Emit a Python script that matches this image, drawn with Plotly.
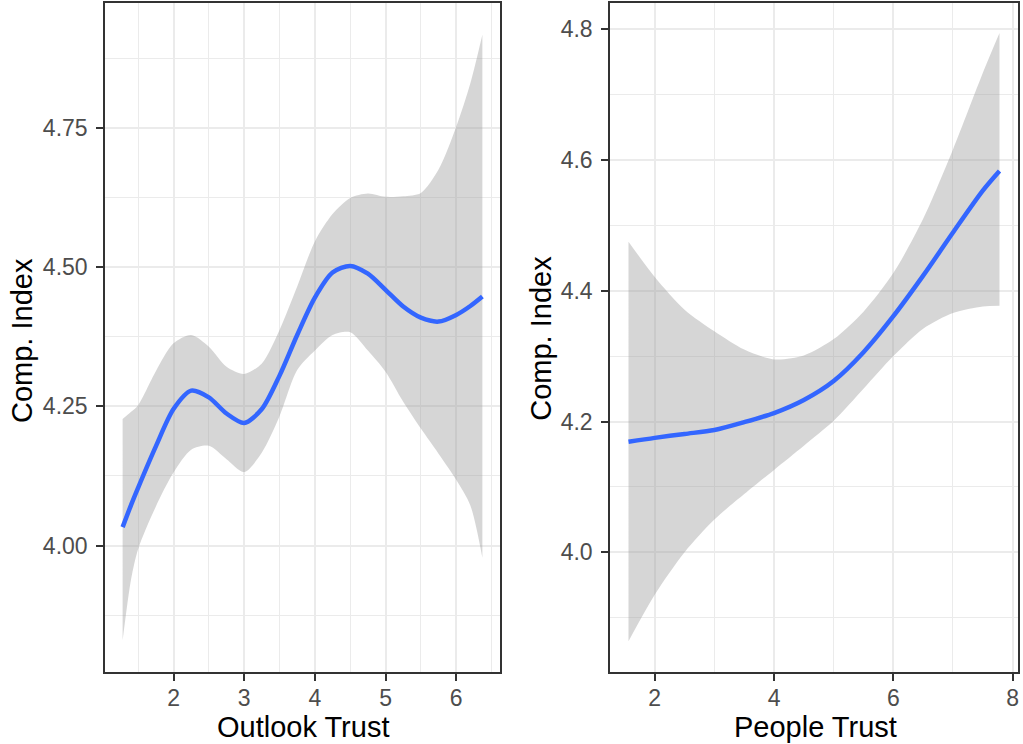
import plotly.graph_objects as go

# ---- Left panel: Outlook Trust ----
outlook_x = [1.28, 1.4, 1.5, 1.75, 2.0, 2.25, 2.5, 2.75, 3.0, 3.25, 3.5, 3.75,
             4.0, 4.25, 4.5, 4.75, 5.0, 5.25, 5.5, 5.75, 6.0, 6.2, 6.37]
outlook_fit = [4.033, 4.073, 4.104, 4.178, 4.245, 4.278, 4.266, 4.237, 4.220, 4.245,
               4.305, 4.378, 4.445, 4.490, 4.502, 4.488, 4.459, 4.429, 4.409, 4.402,
               4.414, 4.430, 4.447]
outlook_upper = [4.227, 4.240, 4.252, 4.313, 4.363, 4.378, 4.357, 4.321, 4.308, 4.327,
                 4.387, 4.465, 4.546, 4.595, 4.624, 4.632, 4.626, 4.627, 4.633, 4.675,
                 4.752, 4.830, 4.917]
outlook_lower = [3.830, 3.940, 3.994, 4.070, 4.131, 4.172, 4.179, 4.155, 4.132, 4.167,
                 4.232, 4.315, 4.350, 4.378, 4.383, 4.350, 4.312, 4.258, 4.210, 4.165,
                 4.118, 4.072, 3.978]

# ---- Right panel: People Trust ----
people_x = [1.56, 2.0, 2.5, 3.0, 3.5, 4.0, 4.5, 5.0, 5.5, 6.0, 6.5, 7.0, 7.5, 7.78]
people_fit = [4.169, 4.175, 4.181, 4.187, 4.199, 4.213, 4.233, 4.262, 4.306, 4.361,
              4.423, 4.489, 4.553, 4.583]
people_upper = [4.475, 4.421, 4.371, 4.338, 4.310, 4.295, 4.301, 4.326, 4.368, 4.427,
                4.510, 4.616, 4.733, 4.794]
people_lower = [3.864, 3.935, 4.000, 4.050, 4.089, 4.126, 4.163, 4.201, 4.250, 4.300,
                4.342, 4.366, 4.376, 4.377]

left_xticks = [2, 3, 4, 5, 6]
left_yticks = [4.00, 4.25, 4.50, 4.75]
left_yticklabels = ["4.00", "4.25", "4.50", "4.75"]
right_xticks = [2, 4, 6, 8]
right_yticks = [4.0, 4.2, 4.4, 4.6, 4.8]
right_yticklabels = ["4.0", "4.2", "4.4", "4.6", "4.8"]

x_titles = ["Outlook Trust", "People Trust"]
y_title = "Comp. Index"

BAND = "rgba(153,153,153,0.4)"
LINE = "#3366FF"
FONT = "Liberation Sans, Arial, sans-serif"

fig = go.Figure()


def add_panel(x, lo, up, fit, xa, ya):
    fig.add_trace(go.Scatter(x=x, y=lo, mode="lines", line=dict(width=0, shape="spline", smoothing=0.8),
                             xaxis=xa, yaxis=ya, showlegend=False, hoverinfo="skip"))
    fig.add_trace(go.Scatter(x=x, y=up, mode="lines", line=dict(width=0, shape="spline", smoothing=0.8),
                             fill="tonexty", fillcolor=BAND,
                             xaxis=xa, yaxis=ya, showlegend=False, hoverinfo="skip"))
    fig.add_trace(go.Scatter(x=x, y=fit, mode="lines",
                             line=dict(color=LINE, width=4.5, shape="spline", smoothing=0.8),
                             xaxis=xa, yaxis=ya, showlegend=False))


add_panel(outlook_x, outlook_lower, outlook_upper, outlook_fit, "x", "y")
add_panel(people_x, people_lower, people_upper, people_fit, "x2", "y2")

common = dict(
    showline=True, mirror=True, linecolor="#333333", linewidth=1.5,
    ticks="outside", ticklen=7, tickwidth=1.5, tickcolor="#333333",
    tickfont=dict(family=FONT, size=23, color="#4D4D4D"),
    showgrid=True, gridcolor="#EBEBEB", gridwidth=2,
    zeroline=False,
)
xminor = dict(showgrid=True, gridcolor="#EBEBEB", gridwidth=1, ticks="")

fig.update_layout(
    width=1023, height=744,
    margin=dict(l=0, r=0, t=0, b=0),
    paper_bgcolor="white", plot_bgcolor="white",
    xaxis=dict(domain=[0.1026, 0.4888], range=[1.03, 6.62], tickvals=left_xticks,
               minor=dict(dtick=0.5, tick0=0, **xminor), ticklabelstandoff=-2,
               anchor="y", **common),
    yaxis=dict(domain=[0.0968, 0.996], range=[3.773, 4.974], tickvals=left_yticks,
               ticktext=left_yticklabels, ticklabelstandoff=4,
               minor=dict(dtick=0.125, tick0=0.125, **xminor),
               anchor="x", **common),
    xaxis2=dict(domain=[0.5963, 0.9951], range=[1.25, 8.09], tickvals=right_xticks,
                minor=dict(dtick=1, tick0=1, **xminor), ticklabelstandoff=-2,
                anchor="y2", **common),
    yaxis2=dict(domain=[0.0968, 0.996], range=[3.817, 4.840], tickvals=right_yticks,
                ticktext=right_yticklabels, ticklabelstandoff=4,
                minor=dict(dtick=0.1, tick0=0.1, **xminor),
                anchor="x2", **common),
    annotations=[
        dict(text=x_titles[0], x=0.2957, y=0.0228, xref="paper", yref="paper",
             xanchor="center", yanchor="middle", showarrow=False,
             font=dict(family=FONT, size=29, color="black")),
        dict(text=x_titles[1], x=0.7967, y=0.0228, xref="paper", yref="paper",
             xanchor="center", yanchor="middle", showarrow=False,
             font=dict(family=FONT, size=29, color="black")),
        dict(text=y_title, x=0.0215, y=0.543, xref="paper", yref="paper",
             xanchor="center", yanchor="middle", showarrow=False, textangle=-90,
             font=dict(family=FONT, size=29, color="black")),
        dict(text=y_title, x=0.5288, y=0.546, xref="paper", yref="paper",
             xanchor="center", yanchor="middle", showarrow=False, textangle=-90,
             font=dict(family=FONT, size=29, color="black")),
    ],
)

fig.write_html("out.html")
